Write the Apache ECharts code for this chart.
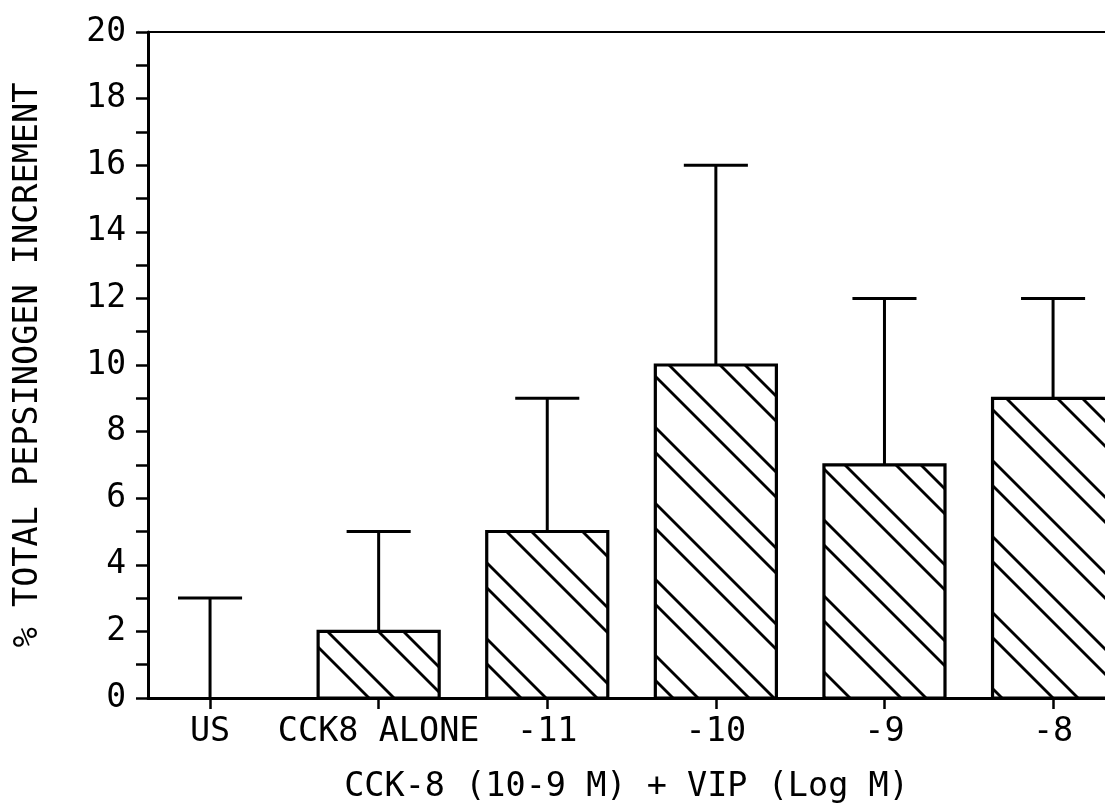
<!DOCTYPE html>
<html><head><meta charset="utf-8">
<script src="https://cdn.jsdelivr.net/npm/echarts@6/dist/echarts.min.js"></script>
<style>html,body{margin:0;padding:0;background:#fff}#c{width:1105px;height:805px}</style>
</head><body><div id="c"></div>
<script>
var categories = ['US', 'CCK8 ALONE', '-11', '-10', '-9', '-8'];
var means = [0, 2, 5, 10, 7, 9];
var upperErr = [3, 5, 9, 16, 12, 12];
var yTicks = [0, 2, 4, 6, 8, 10, 12, 14, 16, 18, 20];

var FONT = 'DejaVu Sans Mono';
// hatch pattern tile
var T = 76, off = 25;
var cv = document.createElement('canvas');
cv.width = T; cv.height = T;
var cx = cv.getContext('2d');
cx.fillStyle = '#fff'; cx.fillRect(0, 0, T, T);
cx.strokeStyle = '#000'; cx.lineWidth = 2.8;
[0, off].forEach(function (c) {
  for (var k = -1; k <= 1; k++) {
    var s = c + k * T;
    cx.beginPath();
    cx.moveTo(-10, -10 + s);
    cx.lineTo(T + 10, T + 10 + s);
    cx.stroke();
  }
});

var chart = echarts.init(document.getElementById('c'));
var idx = categories.map(function (_, i) { return i; });
var xMin = -0.368, xMax = 5.308;
chart.setOption({
  animation: false,
  grid: { left: 148, right: 0, top: 32, bottom: 107, outerBoundsMode: 'none', containLabel: false },
  xAxis: [{
    type: 'value', min: xMin, max: xMax,
    axisLine: { show: true, onZero: false, lineStyle: { color: '#000', width: 3 } },
    axisTick: { show: true, customValues: idx, length: 11, inside: false, lineStyle: { color: '#000', width: 2.5 } },
    axisLabel: { show: true, customValues: idx, margin: 17, color: '#000', fontFamily: FONT, fontSize: 33.5,
      formatter: function (v) { return categories[Math.round(v)]; } },
    splitLine: { show: false },
    name: 'CCK-8 (10-9 M) + VIP (Log M)', nameLocation: 'middle', nameGap: 72,
    nameTextStyle: { color: '#000', fontFamily: FONT, fontSize: 33.5 }
  }, {
    type: 'value', position: 'top', min: xMin, max: xMax,
    axisLine: { show: true, onZero: false, lineStyle: { color: '#000', width: 2 } },
    axisTick: { show: false }, axisLabel: { show: false }, splitLine: { show: false }
  }],
  yAxis: {
    type: 'value', min: 0, max: 20, interval: 2,
    axisLine: { show: true, onZero: false, lineStyle: { color: '#000', width: 3 } },
    axisTick: { show: true, length: 12, lineStyle: { color: '#000', width: 2.5 } },
    minorTick: { show: true, splitNumber: 2, length: 12, lineStyle: { color: '#000', width: 2.5 } },
    axisLabel: { color: '#000', fontFamily: FONT, fontSize: 33, margin: 22,
      customValues: yTicks },
    splitLine: { show: false },
    name: '% TOTAL PEPSINOGEN INCREMENT', nameLocation: 'middle', nameGap: 103, nameRotate: 90,
    nameTextStyle: { color: '#000', fontFamily: FONT, fontSize: 33.5 }
  },
  series: [{
    type: 'custom',
    data: idx.map(function (i) { return [i, means[i]]; }),
    renderItem: function (params, api) {
      var i = api.value(0), v = api.value(1);
      if (v <= 0) return null;
      var top = api.coord([i, v]), bot = api.coord([i, 0]);
      var w = api.size([0.718, 0])[0];
      return {
        type: 'rect',
        shape: { x: top[0] - w / 2, y: top[1], width: w, height: bot[1] - top[1] },
        style: { fill: { image: cv, repeat: 'repeat' }, stroke: '#000', lineWidth: 3.2 }
      };
    },
    z: 2
  }, {
    type: 'custom',
    data: idx.map(function (i) { return [i, means[i], upperErr[i]]; }),
    renderItem: function (params, api) {
      var i = api.value(0);
      var p0 = api.coord([i, api.value(1)]), p1 = api.coord([i, api.value(2)]);
      var cw = api.size([0.38, 0])[0];
      var st = { stroke: '#000', lineWidth: 3, fill: null };
      return {
        type: 'group', children: [
          { type: 'line', shape: { x1: p0[0], y1: p0[1], x2: p1[0], y2: p1[1] }, style: st },
          { type: 'line', shape: { x1: p1[0] - cw / 2, y1: p1[1], x2: p1[0] + cw / 2, y2: p1[1] }, style: st }
        ]
      };
    },
    z: 3
  }]
});
</script></body></html>
